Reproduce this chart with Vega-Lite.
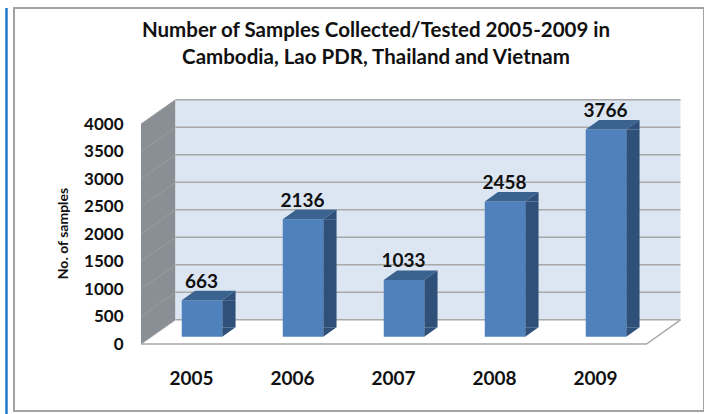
{
"$schema":"https://vega.github.io/schema/vega-lite/v6.json",
"width":690,"height":403,
"autosize":"none",
"padding":{"left":14,"top":8,"right":0,"bottom":3},
"background":"#ffffff",
"view":{"stroke":"#a3a3a3","strokeWidth":2,"fill":"#ffffff"},
"config":{"font":"Lato"},
"title":{"text":["Number of Samples Collected/Tested 2005-2009  in","Cambodia, Lao PDR, Thailand and Vietnam"],"font":"Lato","fontWeight":"bold","fontSize":20.5,"lineHeight":27,"color":"#111111","anchor":"middle","dx":17,"offset":-65},
"datasets":{
"samples":[{"year":"2005","samples":663},{"year":"2006","samples":2136},{"year":"2007","samples":1033},{"year":"2008","samples":2458},{"year":"2009","samples":3766}],
"origin":[{"year":"2005","samples":0}],
"ticks":[{"year":"2005","samples":0},{"year":"2005","samples":500},{"year":"2005","samples":1000},{"year":"2005","samples":1500},{"year":"2005","samples":2000},{"year":"2005","samples":2500},{"year":"2005","samples":3000},{"year":"2005","samples":3500},{"year":"2005","samples":4000}]
},
"encoding":{
"x":{"field":"year","type":"nominal","scale":{"range":[127,632],"paddingInner":0,"paddingOuter":0},"axis":{"title":null,"domain":false,"ticks":false,"labelAngle":0,"labelFont":"Lato","labelFontWeight":"bold","labelFontSize":19,"labelColor":"#111111","labelPadding":0,"offset":-42,"grid":false}},
"y":{"field":"samples","type":"quantitative","scale":{"domain":[0,4000],"range":[336,116],"nice":false},"axis":{"title":"No. of samples","titleFont":"Lato","titleFontWeight":"bold","titleFontSize":14,"titleColor":"#111111","titleX":-53,"titleY":225,"titleAngle":-90,"domain":false,"ticks":false,"grid":false,"format":"d","values":[0,500,1000,1500,2000,2500,3000,3500,4000],"labelFont":"Lato","labelFontWeight":"bold","labelFontSize":17,"labelColor":"#111111","labelPadding":0,"offset":-109}}
},
"layer":[
{"data":{"name":"origin"},"mark":{"type":"point","filled":true,"opacity":1,"size":4,"strokeWidth":0,"fill":"#8a8f95","shape":"M-50.5 0L-16 -24.2L-16 -244.5L-50.5 -220Z"}},
{"data":{"name":"origin"},"mark":{"type":"point","filled":true,"opacity":1,"size":4,"strokeWidth":0,"fill":"#dce6f2","shape":"M-16 -24.2L489 -24.2L489 -244.5L-16 -244.5Z"}},
{"data":{"name":"ticks"},"mark":{"type":"point","filled":false,"opacity":1,"size":4,"strokeWidth":1,"stroke":"#9d9d9d","shape":"M-50.5 0L-16 -24.2"}},
{"data":{"name":"ticks"},"mark":{"type":"point","filled":false,"opacity":1,"size":4,"strokeWidth":1.6,"stroke":"#a8a8a8","shape":"M-16 -24.2L489 -24.2"}},
{"data":{"name":"origin"},"mark":{"type":"point","filled":false,"opacity":1,"size":4,"strokeWidth":1.5,"stroke":"#a8a8a8","shape":"M-50.5 0L455 0L489 -24.2"}},
{"data":{"name":"origin"},"mark":{"type":"point","filled":false,"opacity":1,"size":4,"strokeWidth":2.5,"stroke":"#1e78c8","shape":"M-185 -336L-185 70"}},
{"data":{"name":"samples"},"mark":{"type":"bar","size":13.3,"xOffset":37.4,"yOffset":-7.3,"y2Offset":-16.8,"color":"#2f5078"},"encoding":{"y2":{"datum":0}}},
{"data":{"name":"samples"},"mark":{"type":"bar","size":40.5,"xOffset":10.5,"yOffset":-7.3,"y2Offset":-7.3,"color":"#4f81bd"},"encoding":{"y2":{"datum":0}}},
{"data":{"name":"samples"},"mark":{"type":"point","filled":true,"opacity":1,"size":4,"strokeWidth":0,"fill":"#3b6390","shape":"M-9.75 -7.3L30.75 -7.3L44.05 -16.8L3.55 -16.8Z"}},
{"data":{"name":"samples"},"mark":{"type":"point","filled":true,"opacity":1,"size":4,"strokeWidth":0,"fill":"#2f5078","shape":"M30.75 -7.3L44.05 -16.8L44.05 -7.3Z"}},
{"data":{"name":"samples"},"mark":{"type":"point","filled":true,"opacity":1,"size":4,"strokeWidth":0,"fill":"#2f5078"},"encoding":{"y":{"datum":0},"shape":{"value":"M30.75 -7.3L30.75 -16.8L44.05 -16.8Z"}}},
{"data":{"name":"samples"},"mark":{"type":"text","font":"Lato","fontWeight":"bold","fontSize":19,"color":"#111111","baseline":"alphabetic","xOffset":10,"yOffset":-20},"encoding":{"text":{"field":"samples","type":"quantitative","format":"d"}}}
]
}
